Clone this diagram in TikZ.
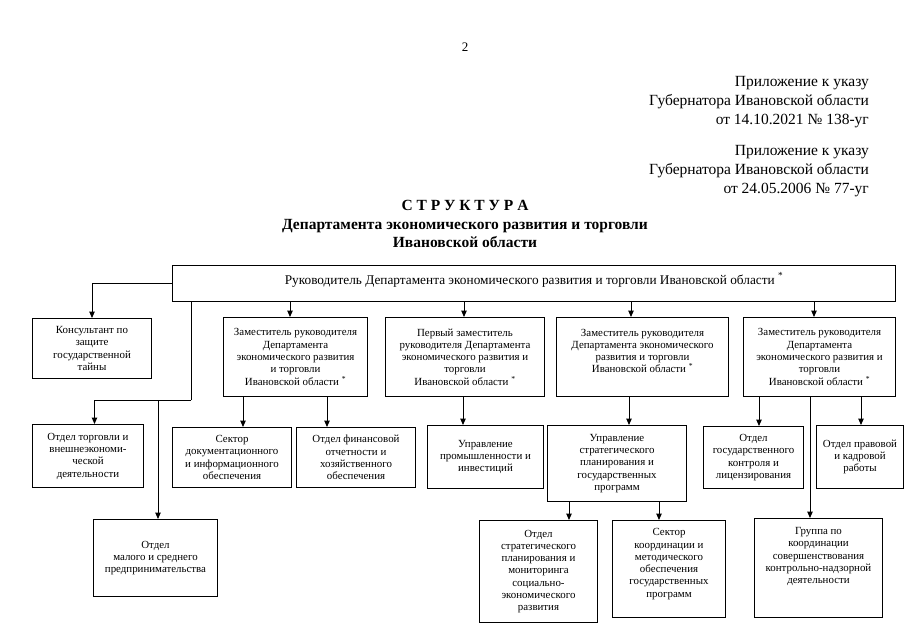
\documentclass[tikz,border=0pt]{standalone}
\usepackage{fontspec}
\setmainfont{Liberation Serif}
\usetikzlibrary{arrows.meta}

\begin{document}
\begin{tikzpicture}[x=1pt,y=-1pt,
    box/.style={draw, line width=1pt, align=center, anchor=north west, inner sep=1pt,
      font=\fontsize{10.9}{12.3}\selectfont},
    arr/.style={-{Triangle[length=6.5pt,width=5.5pt]}, line width=1pt},
    ln/.style={line width=1pt},
    hdr/.style={anchor=north east, align=right, inner sep=0pt, font=\fontsize{15.5}{19.3}\selectfont}]
  \useasboundingbox (0,0) rectangle (905,640);

  % page header
  \node[font=\fontsize{13}{15}\selectfont] (pg) at (465,47) {2};
  \node[hdr] (pril1) at (869,76) {Приложение к указу\\Губернатора Ивановской области\\от 14.10.2021 № 138-уг};
  \node[hdr] (pril2) at (869,145) {Приложение к указу\\Губернатора Ивановской области\\от 24.05.2006 № 77-уг};
  \node[font=\bfseries\fontsize{15.5}{18}\selectfont] (titul) at (465,205) {С Т Р У К Т У Р А};
  \node[font=\bfseries\fontsize{15.5}{18}\selectfont, align=center] (titul2) at (465,233)
    {Департамента экономического развития и торговли\\Ивановской области};

  % boxes
  \node[box, minimum width=723, minimum height=36, text depth=10pt, font=\fontsize{13.3}{15}\selectfont] (head) at (172,265)
    {Руководитель Департамента экономического развития и торговли Ивановской области \textsuperscript{*}};
  \node[box, minimum width=119, minimum height=60] (kons) at (32,318) {Консультант по\\защите\\государственной\\тайны};
  \node[box, minimum width=144, minimum height=79] (zam1) at (223,317)
    {Заместитель руководителя\\Департамента\\экономического развития\\и торговли\\Ивановской области \textsuperscript{*}};
  \node[box, minimum width=159, minimum height=79] (perv) at (385,317)
    {Первый заместитель\\руководителя Департамента\\экономического развития и\\торговли\\Ивановской области \textsuperscript{*}};
  \node[box, minimum width=172, minimum height=79] (zam3) at (556,317)
    {Заместитель руководителя\\Департамента экономического\\развития и торговли\\Ивановской области \textsuperscript{*}\\ \mbox{}};
  \node[box, minimum width=152, minimum height=79] (zam4) at (743,317)
    {Заместитель руководителя\\Департамента\\экономического развития и\\торговли\\Ивановской области \textsuperscript{*}};

  \node[box, minimum width=111, minimum height=63] (torg) at (32,424) {Отдел торговли и\\внешнеэкономи-\\ческой\\деятельности};
  \node[box, minimum width=119, minimum height=60] (sdoc) at (172,427) {Сектор\\документационного\\и информационного\\обеспечения};
  \node[box, minimum width=119, minimum height=60] (ofin) at (296,427) {Отдел финансовой\\отчетности и\\хозяйственного\\обеспечения};
  \node[box, minimum width=116, minimum height=63] (uprom) at (427,425) {Управление\\промышленности и\\инвестиций};
  \node[box, minimum width=139, minimum height=76] (ustrat) at (547,425)
    {Управление\\стратегического\\планирования и\\государственных\\программ};
  \node[box, minimum width=100, minimum height=62] (okontr) at (703,426) {Отдел\\государственного\\контроля и\\лицензирования};
  \node[box, minimum width=87, minimum height=63] (oprav) at (816,425) {Отдел правовой\\и кадровой\\работы};

  \node[box, minimum width=124, minimum height=77] (omal) at (93,519) {Отдел\\ малого и среднего\\предпринимательства};
  \node[box, minimum width=118, minimum height=102] (ostrat) at (479,520)
    {Отдел\\стратегического\\планирования и\\мониторинга\\социально-\\экономического\\развития};
  \node[box, minimum width=113, minimum height=97] (skoord) at (612,520)
    {Сектор\\координации и\\методического\\обеспечения\\государственных\\программ\\ \mbox{}};
  \node[box, minimum width=128, minimum height=99] (grup) at (754,518)
    {Группа по\\координации\\совершенствования\\контрольно-надзорной\\деятельности\\ \mbox{}\\ \mbox{}};

  % arrow ends
  \coordinate (razv) at (191,400);
  \coordinate (mal) at (158,400);
  \coordinate (a1) at (290,317);
  \coordinate (a2) at (464,317);
  \coordinate (a3) at (631,317);
  \coordinate (a4) at (814,317);
  \coordinate (b1) at (243,427);
  \coordinate (b2) at (327,427);
  \coordinate (b3) at (463,425);
  \coordinate (b4) at (629,425);
  \coordinate (b5) at (759,426);
  \coordinate (b6) at (861,425);
  \coordinate (b7) at (810,518);
  \coordinate (c1) at (569,520);
  \coordinate (c2) at (659,520);

  % connectors
  \draw[arr] (head.west) -| (kons.north);
  \draw[ln] (head.south -| razv) -- (razv);
  \draw[arr] (razv) -| ([xshift=6.5]torg.north);
  \draw[arr] (mal) -- (mal |- omal.north);
  \draw[arr] (head.south -| a1) -- (a1);
  \draw[arr] (head.south -| a2) -- (a2);
  \draw[arr] (head.south -| a3) -- (a3);
  \draw[arr] (head.south -| a4) -- (a4);
  \draw[arr] (zam1.south -| b1) -- (b1);
  \draw[arr] (zam1.south -| b2) -- (b2);
  \draw[arr] (perv.south -| b3) -- (b3);
  \draw[arr] (zam3.south -| b4) -- (b4);
  \draw[arr] (zam4.south -| b5) -- (b5);
  \draw[arr] (zam4.south -| b6) -- (b6);
  \draw[arr] (zam4.south -| b7) -- (b7);
  \draw[arr] (ustrat.south -| c1) -- (c1);
  \draw[arr] (ustrat.south -| c2) -- (c2);
\end{tikzpicture}
\end{document}
